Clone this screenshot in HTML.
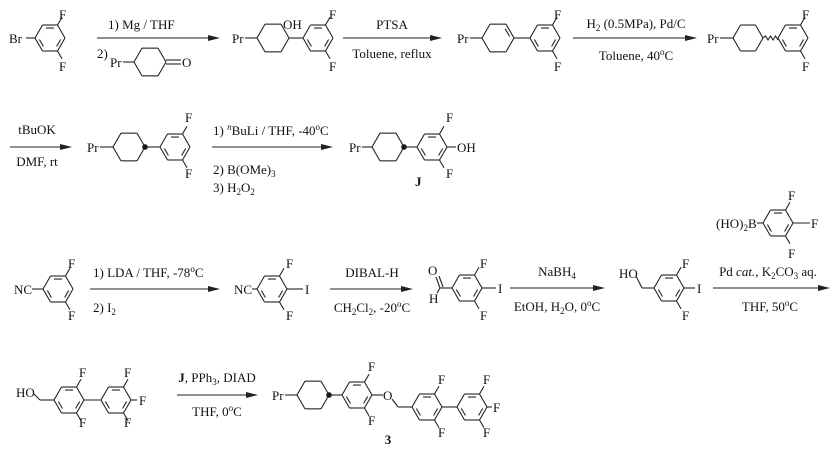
<!DOCTYPE html>
<html><head><meta charset="utf-8"><style>
html,body{margin:0;padding:0;background:#fff;}
svg{display:block;}
text{font-family:"Liberation Serif",serif;font-size:13px;fill:#111;}
.c{text-anchor:middle;}
</style></head><body>
<svg id="s" width="840" height="451" viewBox="0 0 840 451" xmlns="http://www.w3.org/2000/svg">
<g id="g" stroke="#222" stroke-width="1.1" fill="none"></g>
<!-- Row 1 -->
<text x="9" y="43">Br</text>
<text x="59" y="19">F</text><text x="59" y="71">F</text>
<text x="108" y="29">1) Mg / THF</text>
<text x="97" y="58">2)</text>
<text x="110" y="67">Pr</text>
<text x="182" y="67">O</text>
<text x="232" y="43">Pr</text>
<text x="283" y="29">OH</text>
<text x="329" y="19">F</text><text x="329" y="71">F</text>
<text x="392" y="29" class="c">PTSA</text>
<text x="392" y="58" class="c">Toluene, reflux</text>
<text x="457" y="43">Pr</text>
<text x="554" y="19">F</text><text x="554" y="71">F</text>
<text x="636" y="28" class="c">H<tspan font-size="9" dy="3">2</tspan><tspan dy="-3"> (0.5MPa), Pd/C</tspan></text>
<text x="636" y="60" class="c">Toluene, 40<tspan font-size="9" dy="-5">o</tspan><tspan dy="5">C</tspan></text>
<text x="707" y="43">Pr</text>
<text x="802" y="19">F</text><text x="802" y="71">F</text>
<!-- Row 2 -->
<text x="37" y="134" class="c">tBuOK</text>
<text x="37" y="166" class="c">DMF, rt</text>
<text x="87" y="152">Pr</text>
<text x="185" y="122">F</text><text x="185" y="178">F</text>
<text x="213" y="135">1) <tspan font-style="italic" font-size="9" dy="-5">n</tspan><tspan dy="5">BuLi / THF, -40</tspan><tspan font-size="9" dy="-5">o</tspan><tspan dy="5">C</tspan></text>
<text x="213" y="174">2) B(OMe)<tspan font-size="9" dy="3">3</tspan></text>
<text x="213" y="192">3) H<tspan font-size="9" dy="3">2</tspan><tspan dy="-3">O</tspan><tspan font-size="9" dy="3">2</tspan></text>
<text x="349" y="152">Pr</text>
<text x="446" y="122">F</text><text x="446" y="178">F</text>
<text x="457" y="152">OH</text>
<text x="415" y="186" font-weight="bold">J</text>
<!-- Row 3 -->
<text x="14" y="294">NC</text>
<text x="68" y="268">F</text><text x="68" y="320">F</text>
<text x="93" y="277">1) LDA / THF, -78<tspan font-size="9" dy="-5">o</tspan><tspan dy="5">C</tspan></text>
<text x="93" y="312">2) I<tspan font-size="9" dy="3">2</tspan></text>
<text x="234" y="294">NC</text>
<text x="286" y="268">F</text><text x="286" y="320">F</text>
<text x="305" y="294">I</text>
<text x="372" y="277" class="c">DIBAL-H</text>
<text x="372" y="312" class="c">CH<tspan font-size="9" dy="3">2</tspan><tspan dy="-3">Cl</tspan><tspan font-size="9" dy="3">2</tspan><tspan dy="-3">, -20</tspan><tspan font-size="9" dy="-5">o</tspan><tspan dy="5">C</tspan></text>
<text x="428" y="275">O</text>
<text x="429" y="303">H</text>
<text x="480" y="268">F</text><text x="480" y="320">F</text>
<text x="498" y="293">I</text>
<text x="557" y="276" class="c">NaBH<tspan font-size="9" dy="3">4</tspan></text>
<text x="557" y="311" class="c">EtOH, H<tspan font-size="9" dy="3">2</tspan><tspan dy="-3">O, 0</tspan><tspan font-size="9" dy="-5">o</tspan><tspan dy="5">C</tspan></text>
<text x="619" y="278">HO</text>
<text x="682" y="268">F</text><text x="682" y="320">F</text>
<text x="697" y="293">I</text>
<text x="716" y="228">(HO)<tspan font-size="9" dy="3">2</tspan><tspan dy="-3">B</tspan></text>
<text x="788" y="200">F</text><text x="811" y="228">F</text><text x="788" y="258">F</text>
<text x="768" y="276" class="c">Pd <tspan font-style="italic">cat.</tspan>, K<tspan font-size="9" dy="3">2</tspan><tspan dy="-3">CO</tspan><tspan font-size="9" dy="3">3</tspan><tspan dy="-3"> aq.</tspan></text>
<text x="770" y="311" class="c">THF, 50<tspan font-size="9" dy="-5">o</tspan><tspan dy="5">C</tspan></text>
<!-- Row 4 -->
<text x="16" y="397">HO</text>
<text x="79" y="377">F</text><text x="79" y="427">F</text>
<text x="124" y="377">F</text><text x="139" y="405">F</text><text x="124" y="427">F</text>
<text x="217" y="382" class="c" ><tspan font-weight="bold">J</tspan>, PPh<tspan font-size="9" dy="3">3</tspan><tspan dy="-3">, DIAD</tspan></text>
<text x="217" y="416" class="c">THF, 0<tspan font-size="9" dy="-5">o</tspan><tspan dy="5">C</tspan></text>
<text x="272" y="400">Pr</text>
<text x="368" y="371">F</text><text x="368" y="425">F</text>
<text x="383" y="400">O</text>
<text x="438" y="384">F</text><text x="438" y="437">F</text>
<text x="483" y="384">F</text><text x="493" y="412">F</text><text x="483" y="437">F</text>
<text x="388" y="444" font-weight="bold" class="c">3</text>
</svg>
<script>
var g=document.getElementById('g'),NS='http://www.w3.org/2000/svg';
function L(a,b,c,d){var e=document.createElementNS(NS,'line');e.setAttribute('x1',a);e.setAttribute('y1',b);e.setAttribute('x2',c);e.setAttribute('y2',d);g.appendChild(e);}
function V(cx,cy,r,i){var a=Math.PI/3*i;return [cx+r*Math.cos(a),cy+r*Math.sin(a)];}
function hex(cx,cy,r,dbl){for(var i=0;i<6;i++){var p=V(cx,cy,r,i),q=V(cx,cy,r,i+1);L(p[0],p[1],q[0],q[1]);}
 (dbl||[]).forEach(function(i){var p=V(cx,cy,r-3.5,i),q=V(cx,cy,r-3.5,i+1);var dx=(q[0]-p[0])*0.15,dy=(q[1]-p[1])*0.15;L(p[0]+dx,p[1]+dy,q[0]-dx,q[1]-dy);});}
function benz(cx,cy,r){hex(cx,cy,r,[0,2,4]);}
function sub(cx,cy,r,i,len){var p=V(cx,cy,r,i),q=V(cx,cy,r+len,i);L(p[0],p[1],q[0],q[1]);}
function arrow(x1,x2,y){L(x1,y,x2-10,y);var p=document.createElementNS(NS,'polygon');p.setAttribute('points',(x2-12)+','+(y-3)+' '+x2+','+y+' '+(x2-12)+','+(y+3));p.setAttribute('fill','#222');p.setAttribute('stroke','none');g.appendChild(p);}
function dot(x,y){var c=document.createElementNS(NS,'circle');c.setAttribute('cx',x);c.setAttribute('cy',y);c.setAttribute('r',2.3);c.setAttribute('fill','#111');g.appendChild(c);}
function bF(cx,cy,r){sub(cx,cy,r,5,9);sub(cx,cy,r,1,9);}
// row1
benz(50,38,15);L(26,38,35,38);bF(50,38,15);
arrow(97,220,38);
hex(150,62,16);L(123,62,134,62);L(166,60,181,60);L(166,64,181,64);
L(245,38,257,38);hex(273,38,16);L(289,38,303,38);benz(318,38,15);bF(318,38,15);
arrow(343,442,38);
L(470,38,482,38);hex(498,38,16,[5]);L(514,38,530,38);benz(545,38,15);bF(545,38,15);
arrow(573,697,38);
L(720,38,733,38);hex(748,38,15);
(function(){var s='M763,38';for(var k=1;k<=6;k++){s+=' L'+(763+k*2.5)+','+(38+(k%2?-2:2));}var p=document.createElementNS(NS,'path');p.setAttribute('d',s);g.appendChild(p);})();
benz(793,38,15);bF(793,38,15);
// row2
arrow(10,72,147);
L(100,147,113,147);hex(129,147,16);dot(145,147);L(145,147,160,147);benz(175,147,15);bF(175,147,15);
arrow(212,333,147);
L(362,147,372,147);hex(388,147,16);dot(404,147);L(404,147,417,147);benz(432,147,15);bF(432,147,15);L(447,147,456,147);
// row3
L(32,289,43,289);benz(58,289,15);bF(58,289,15);
arrow(90,220,289);
L(252,289,257,289);benz(272,289,15);bF(272,289,15);L(287,289,303,289);
arrow(330,413,289);
L(440,288,452,288);L(440,288,436,277);L(443,287,439,276);L(440,288,437,293);benz(467,288,15);bF(467,288,15);L(482,288,496,288);
arrow(510,605,288);
L(636,276,642,288);L(642,288,654,288);benz(669,288,15);bF(669,288,15);L(684,288,695,288);
arrow(713,830,288);
L(757,223,763,223);benz(778,223,15);bF(778,223,15);L(793,223,810,223);
// row4
L(33,393,40,400);L(40,400,54,400);benz(69,400,15);bF(69,400,15);L(84,400,101,400);benz(116,400,15);bF(116,400,15);L(131,400,137,400);
arrow(177,258,395);
L(285,395,297,395);hex(313,395,16);dot(329,395);L(329,395,342,395);benz(357,395,15);bF(357,395,15);L(372,395,383,395);
L(392,399,398,407);L(398,407,412,407);benz(427,407,15);bF(427,407,15);L(442,407,457,407);benz(472,407,15);bF(472,407,15);L(487,407,492,407);
</script>
</body></html>
